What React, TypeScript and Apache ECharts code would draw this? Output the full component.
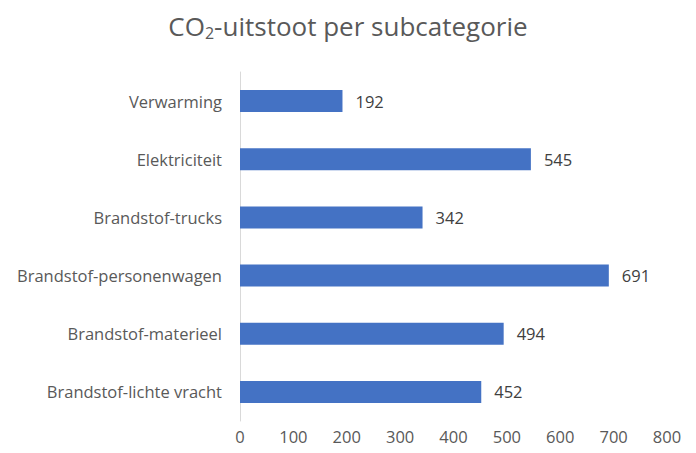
import React, { useEffect, useRef } from "react";
import * as echarts from "echarts";

const categories = [
  "Brandstof-lichte vracht",
  "Brandstof-materieel",
  "Brandstof-personenwagen",
  "Brandstof-trucks",
  "Elektriciteit",
  "Verwarming",
];
const values = [452, 494, 691, 342, 545, 192];
const xTicks = { min: 0, max: 800, interval: 100 };
const titleText = "CO{sub|2}-uitstoot per subcategorie";

const FONT = "'Open Sans', 'Noto Sans', sans-serif";

export default function App() {
  const ref = useRef<HTMLDivElement>(null);
  useEffect(() => {
    if (!ref.current) return;
    const chart = echarts.init(ref.current, undefined, { renderer: "svg" });
    chart.setOption({
      animation: false,
      backgroundColor: "#ffffff",
      title: {
        text: titleText,
        left: "center",
        top: 6,
        textStyle: {
          fontFamily: FONT,
          fontSize: 26,
          fontWeight: "normal",
          color: "#595959",
          rich: {
            sub: {
              fontFamily: FONT,
              fontSize: 16,
              color: "#595959",
              padding: [14, 0, 0, 0],
            },
          },
        },
      },
      grid: { left: 240, right: 29, top: 72, bottom: 32, containLabel: false },
      xAxis: {
        type: "value",
        min: xTicks.min,
        max: xTicks.max,
        interval: xTicks.interval,
        axisLine: { show: false },
        axisTick: { show: false },
        splitLine: { show: false },
        axisLabel: {
          fontFamily: FONT,
          fontSize: 16.5,
          color: "#595959",
          margin: 7,
        },
      },
      yAxis: {
        type: "category",
        data: categories,
        axisLine: { show: true, lineStyle: { color: "#d9d9d9", width: 1 } },
        axisTick: { show: false },
        axisLabel: {
          fontFamily: FONT,
          fontSize: 16.5,
          color: "#595959",
          margin: 18,
        },
      },
      series: [
        {
          type: "bar",
          data: values,
          barWidth: 22,
          itemStyle: { color: "#4472C4" },
          label: {
            show: true,
            position: "right",
            distance: 13,
            fontFamily: FONT,
            fontSize: 16.5,
            color: "#404040",
          },
        },
      ],
    });
    return () => chart.dispose();
  }, []);
  return (
    <div
      ref={ref}
      style={{ position: "absolute", left: 0, top: 0, width: 696, height: 453 }}
    />
  );
}
